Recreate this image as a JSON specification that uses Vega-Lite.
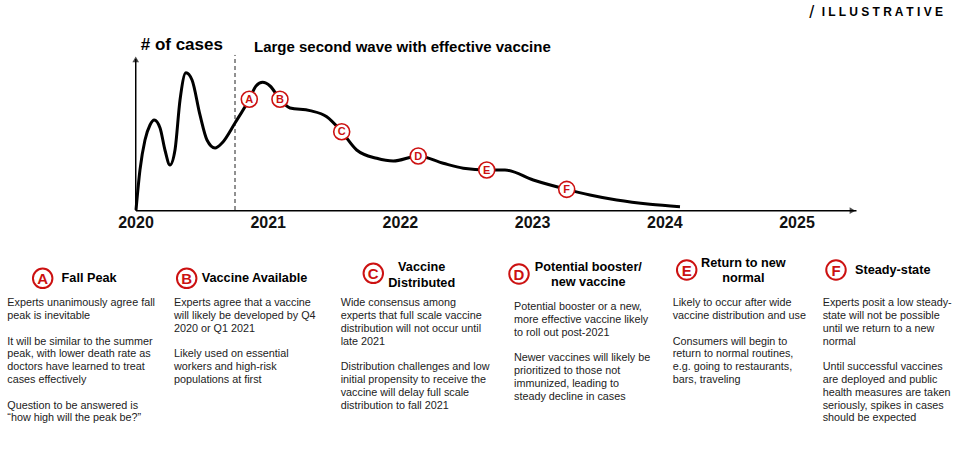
{
  "$schema": "https://vega.github.io/schema/vega-lite/v6.json",
  "width": 977,
  "height": 458,
  "autosize": {"type": "fit", "contains": "padding"},
  "padding": 0,
  "background": "white",
  "config": {"view": {"stroke": null}, "font": "Liberation Sans"},
  "datasets": {
    "curve": [
      {"t": 2020.000, "v": 0},
      {"t": 2020.030, "v": 25.0},
      {"t": 2020.068, "v": 43.75},
      {"t": 2020.106, "v": 53.1},
      {"t": 2020.138, "v": 56.25},
      {"t": 2020.182, "v": 51.25},
      {"t": 2020.219, "v": 37.5},
      {"t": 2020.257, "v": 28.1},
      {"t": 2020.295, "v": 37.5},
      {"t": 2020.333, "v": 68.75},
      {"t": 2020.378, "v": 85.8},
      {"t": 2020.424, "v": 81.25},
      {"t": 2020.484, "v": 59.4},
      {"t": 2020.537, "v": 43.75},
      {"t": 2020.598, "v": 38.75},
      {"t": 2020.651, "v": 41.9},
      {"t": 2020.749, "v": 54.4},
      {"t": 2020.857, "v": 69.2},
      {"t": 2020.908, "v": 77.5},
      {"t": 2020.958, "v": 79.8},
      {"t": 2021.014, "v": 77.5},
      {"t": 2021.089, "v": 69.2},
      {"t": 2021.165, "v": 63.75},
      {"t": 2021.316, "v": 62.1},
      {"t": 2021.443, "v": 58.3},
      {"t": 2021.556, "v": 48.9},
      {"t": 2021.669, "v": 37.5},
      {"t": 2021.821, "v": 32.3},
      {"t": 2021.946, "v": 30.6},
      {"t": 2022.135, "v": 33.75},
      {"t": 2022.324, "v": 29.2},
      {"t": 2022.476, "v": 26.1},
      {"t": 2022.653, "v": 25.0},
      {"t": 2022.791, "v": 25.0},
      {"t": 2023.005, "v": 18.75},
      {"t": 2023.258, "v": 12.9},
      {"t": 2023.434, "v": 9.4},
      {"t": 2023.636, "v": 6.25},
      {"t": 2023.888, "v": 3.6},
      {"t": 2024.115, "v": 2.1}
    ],
    "axes": [
      {"x1": 2020.0, "x2": 2025.45, "y1": -0.44, "y2": -0.44},
      {"x1": 2019.998, "x2": 2019.998, "y1": -0.44, "y2": 94.4}
    ],
    "divider": [{"x": 2020.749, "y1": 0, "y2": 96.9}],
    "arrowX": [{"x": 2025.42, "y": -0.44}],
    "arrowY": [{"x": 2019.998, "y": 94.1}],
    "markers": [
      {"t": 2020.857, "v": 69.2, "label": "A"},
      {"t": 2021.089, "v": 69.2, "label": "B"},
      {"t": 2021.556, "v": 48.9, "label": "C"},
      {"t": 2022.135, "v": 33.75, "label": "D"},
      {"t": 2022.653, "v": 25.0, "label": "E"},
      {"t": 2023.258, "v": 12.9, "label": "F"}
    ],
    "years": [
      {"t": 2020, "v": -7.9, "label": "2020"},
      {"t": 2021, "v": -7.9, "label": "2021"},
      {"t": 2022, "v": -7.9, "label": "2022"},
      {"t": 2023, "v": -7.9, "label": "2023"},
      {"t": 2024, "v": -7.9, "label": "2024"},
      {"t": 2025, "v": -7.9, "label": "2025"}
    ],
    "ylabel": [{"t": 2020.0356, "v": 103.1, "label": "# of cases"}],
    "title": [{"t": 2020.8926, "v": 102.1, "label": "Large second wave with effective vaccine"}],
    "slash": [{"t": 2025.1112, "v": 123.1, "label": "/"}],
    "illus": [{"t": 2025.1868, "v": 123.9, "label": "I L L U S T R A T I V E"}],
    "hcircles": [
      {"t": 2019.2942, "v": -42.7, "label": "A"},
      {"t": 2020.3835, "v": -42.7, "label": "B"},
      {"t": 2021.7950, "v": -39.6, "label": "C"},
      {"t": 2022.8971, "v": -40.0, "label": "D"},
      {"t": 2024.1657, "v": -37.5, "label": "E"},
      {"t": 2025.2950, "v": -37.5, "label": "F"}
    ],
    "htitlesLeft": [
      {"t": 2019.4372, "v": -42.5, "label": "Fall Peak"},
      {"t": 2020.4970, "v": -42.5, "label": "Vaccine Available"},
      {"t": 2025.4387, "v": -37.5, "label": "Steady-state"}
    ],
    "htitlesCenter": [
      {"t": 2022.1611, "v": -35.8, "label": "Vaccine"},
      {"t": 2022.1611, "v": -45.4, "label": "Distributed"},
      {"t": 2023.4213, "v": -35.4, "label": "Potential booster/"},
      {"t": 2023.4213, "v": -45.2, "label": "new vaccine"},
      {"t": 2024.5938, "v": -32.9, "label": "Return to new"},
      {"t": 2024.5938, "v": -42.7, "label": "normal"}
    ],
    "body": [
      {"t": 2019.0265, "v": -58.3, "label": "Experts unanimously agree fall"},
      {"t": 2019.0265, "v": -66.3, "label": "peak is inevitable"},
      {"t": 2019.0265, "v": -82.3, "label": "It will be similar to the summer"},
      {"t": 2019.0265, "v": -90.3, "label": "peak, with lower death rate as"},
      {"t": 2019.0265, "v": -98.3, "label": "doctors have learned to treat"},
      {"t": 2019.0265, "v": -106.3, "label": "cases effectively"},
      {"t": 2019.0265, "v": -122.3, "label": "Question to be answered is"},
      {"t": 2019.0265, "v": -130.3, "label": "“how high will the peak be?”"},
      {"t": 2020.2874, "v": -58.3, "label": "Experts agree that a vaccine"},
      {"t": 2020.2874, "v": -66.3, "label": "will likely be developed by Q4"},
      {"t": 2020.2874, "v": -74.3, "label": "2020 or Q1 2021"},
      {"t": 2020.2874, "v": -90.3, "label": "Likely used on essential"},
      {"t": 2020.2874, "v": -98.3, "label": "workers and high-risk"},
      {"t": 2020.2874, "v": -106.3, "label": "populations at first"},
      {"t": 2021.5484, "v": -58.3, "label": "Wide consensus among"},
      {"t": 2021.5484, "v": -66.3, "label": "experts that full scale vaccine"},
      {"t": 2021.5484, "v": -74.3, "label": "distribution will not occur until"},
      {"t": 2021.5484, "v": -82.3, "label": "late 2021"},
      {"t": 2021.5484, "v": -98.3, "label": "Distribution challenges and low"},
      {"t": 2021.5484, "v": -106.3, "label": "initial propensity to receive the"},
      {"t": 2021.5484, "v": -114.3, "label": "vaccine will delay full scale"},
      {"t": 2021.5484, "v": -122.3, "label": "distribution to fall 2021"},
      {"t": 2022.8593, "v": -60.8, "label": "Potential booster or a new,"},
      {"t": 2022.8593, "v": -68.8, "label": "more effective vaccine likely"},
      {"t": 2022.8593, "v": -76.8, "label": "to roll out post-2021"},
      {"t": 2022.8593, "v": -92.8, "label": "Newer vaccines will likely be"},
      {"t": 2022.8593, "v": -100.8, "label": "prioritized to those not"},
      {"t": 2022.8593, "v": -108.8, "label": "immunized, leading to"},
      {"t": 2022.8593, "v": -116.8, "label": "steady decline in cases"},
      {"t": 2024.0598, "v": -58.3, "label": "Likely to occur after wide"},
      {"t": 2024.0598, "v": -66.3, "label": "vaccine distribution and use"},
      {"t": 2024.0598, "v": -82.3, "label": "Consumers will begin to"},
      {"t": 2024.0598, "v": -90.3, "label": "return to normal routines,"},
      {"t": 2024.0598, "v": -98.3, "label": "e.g. going to restaurants,"},
      {"t": 2024.0598, "v": -106.3, "label": "bars, traveling"},
      {"t": 2025.1944, "v": -58.3, "label": "Experts posit a low steady-"},
      {"t": 2025.1944, "v": -66.3, "label": "state will not be possible"},
      {"t": 2025.1944, "v": -74.3, "label": "until we return to a new"},
      {"t": 2025.1944, "v": -82.3, "label": "normal"},
      {"t": 2025.1944, "v": -98.3, "label": "Until successful vaccines"},
      {"t": 2025.1944, "v": -106.3, "label": "are deployed and public"},
      {"t": 2025.1944, "v": -114.3, "label": "health measures are taken"},
      {"t": 2025.1944, "v": -122.3, "label": "seriously, spikes in cases"},
      {"t": 2025.1944, "v": -130.3, "label": "should be expected"}
    ]
  },
  "encoding": {
    "x": {"field": "t", "type": "quantitative", "axis": null, "scale": {"domain": [2018.9713, 2026.3616], "nice": false, "zero": false}},
    "y": {"field": "v", "type": "quantitative", "axis": null, "scale": {"domain": [-155, 131.25], "nice": false, "zero": false}}
  },
  "layer": [
    {
      "data": {"name": "axes"},
      "mark": {"type": "rule", "color": "#000000", "strokeWidth": 1.5},
      "encoding": {
        "x": {"field": "x1", "type": "quantitative"},
        "x2": {"field": "x2"},
        "y": {"field": "y1", "type": "quantitative"},
        "y2": {"field": "y2"}
      }
    },
    {
      "data": {"name": "arrowX"},
      "mark": {"type": "point", "shape": "triangle-right", "filled": true, "color": "#000000", "size": 45},
      "encoding": {"x": {"field": "x", "type": "quantitative"}, "y": {"field": "y", "type": "quantitative"}}
    },
    {
      "data": {"name": "arrowY"},
      "mark": {"type": "point", "shape": "triangle-up", "filled": true, "color": "#000000", "size": 45},
      "encoding": {"x": {"field": "x", "type": "quantitative"}, "y": {"field": "y", "type": "quantitative"}}
    },
    {
      "data": {"name": "divider"},
      "mark": {"type": "rule", "color": "#222222", "strokeWidth": 1, "strokeDash": [4, 3]},
      "encoding": {
        "x": {"field": "x", "type": "quantitative"},
        "y": {"field": "y1", "type": "quantitative"},
        "y2": {"field": "y2"}
      }
    },
    {
      "data": {"name": "curve"},
      "mark": {"type": "line", "color": "#000000", "strokeWidth": 3, "interpolate": "monotone"},
      "encoding": {}
    },
    {
      "data": {"name": "markers"},
      "mark": {"type": "point", "shape": "circle", "filled": true, "fill": "#ffffff", "stroke": "#cc1111", "strokeWidth": 1.6, "size": 256, "opacity": 1},
      "encoding": {}
    },
    {
      "data": {"name": "markers"},
      "mark": {"type": "text", "color": "#cc1111", "fontSize": 11, "fontWeight": "bold", "baseline": "middle", "align": "center", "dy": 0.5},
      "encoding": {"text": {"field": "label"}}
    },
    {
      "data": {"name": "years"},
      "mark": {"type": "text", "color": "#111111", "fontSize": 16, "fontWeight": "bold", "baseline": "middle", "align": "center"},
      "encoding": {"text": {"field": "label"}}
    },
    {
      "data": {"name": "ylabel"},
      "mark": {"type": "text", "color": "#000000", "fontSize": 17, "fontWeight": "bold", "baseline": "middle", "align": "left"},
      "encoding": {"text": {"field": "label"}}
    },
    {
      "data": {"name": "title"},
      "mark": {"type": "text", "color": "#000000", "fontSize": 15, "fontWeight": "bold", "baseline": "middle", "align": "left"},
      "encoding": {"text": {"field": "label"}}
    },
    {
      "data": {"name": "slash"},
      "mark": {"type": "text", "color": "#000000", "fontSize": 18, "baseline": "middle", "align": "center"},
      "encoding": {"text": {"field": "label"}}
    },
    {
      "data": {"name": "illus"},
      "mark": {"type": "text", "color": "#000000", "fontSize": 12, "fontWeight": "bold", "baseline": "middle", "align": "left"},
      "encoding": {"text": {"field": "label"}}
    },
    {
      "data": {"name": "hcircles"},
      "mark": {"type": "point", "shape": "circle", "filled": true, "fill": "#ffffff", "stroke": "#cc1111", "strokeWidth": 2, "size": 380, "opacity": 1},
      "encoding": {}
    },
    {
      "data": {"name": "hcircles"},
      "mark": {"type": "text", "color": "#cc1111", "fontSize": 15, "fontWeight": "bold", "baseline": "middle", "align": "center", "dy": 0.5},
      "encoding": {"text": {"field": "label"}}
    },
    {
      "data": {"name": "htitlesLeft"},
      "mark": {"type": "text", "color": "#000000", "fontSize": 12.7, "fontWeight": "bold", "baseline": "middle", "align": "left"},
      "encoding": {"text": {"field": "label"}}
    },
    {
      "data": {"name": "htitlesCenter"},
      "mark": {"type": "text", "color": "#000000", "fontSize": 12.7, "fontWeight": "bold", "baseline": "middle", "align": "center"},
      "encoding": {"text": {"field": "label"}}
    },
    {
      "data": {"name": "body"},
      "mark": {"type": "text", "color": "#222222", "fontSize": 10.8, "baseline": "middle", "align": "left"},
      "encoding": {"text": {"field": "label"}}
    }
  ]
}
